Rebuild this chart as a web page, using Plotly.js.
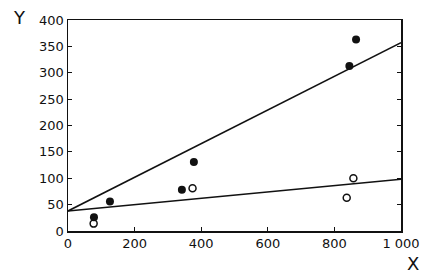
<!DOCTYPE html>
<html><head><meta charset="utf-8">
<script src="https://cdn.plot.ly/plotly-3.0.1.min.js"></script>
<style>html,body{margin:0;padding:0;background:#fff}</style>
</head><body><div id="chart" style="width:435px;height:274px"></div>
<script>
const filledX = [78, 126, 342, 378, 845, 865];
const filledY = [26, 56, 78, 131, 313, 363];
const openX = [77, 374, 837, 857];
const openY = [14, 81, 63, 100];
const upperLineX = [0, 1000];
const upperLineY = [38, 357];
const lowerLineX = [0, 1000];
const lowerLineY = [38, 98];
const xTickVals = [0, 200, 400, 600, 800, 1000];
const xTickText = ['0', '200', '400', '600', '800', '1 000'];
const yTickVals = [0, 50, 100, 150, 200, 250, 300, 350, 400];

const ink = '#111';
const traces = [
  {x: upperLineX, y: upperLineY, mode: 'lines', line: {color: ink, width: 1.5}, hoverinfo: 'skip'},
  {x: lowerLineX, y: lowerLineY, mode: 'lines', line: {color: ink, width: 1.5}, hoverinfo: 'skip'},
  {x: filledX, y: filledY, mode: 'markers', marker: {symbol: 'circle', size: 8, color: ink}},
  {x: openX, y: openY, mode: 'markers', marker: {symbol: 'circle-open', size: 7, color: ink, line: {width: 1.5, color: ink}}}
];
const font = {family: 'DejaVu Sans, sans-serif', size: 13, color: ink};
const layout = {
  width: 435, height: 274,
  margin: {l: 68, r: 34, t: 20, b: 43},
  showlegend: false,
  paper_bgcolor: '#fff', plot_bgcolor: '#fff',
  font: font,
  xaxis: {range: [0, 1000], tickvals: xTickVals, ticktext: xTickText, ticks: 'inside', ticklen: 4,
          tickcolor: ink, showline: true, linecolor: ink, linewidth: 1.5, mirror: true,
          showgrid: false, zeroline: false, tickfont: font},
  yaxis: {range: [0, 400], tickvals: yTickVals, ticks: 'inside', ticklen: 4,
          tickcolor: ink, showline: true, linecolor: ink, linewidth: 1.5, mirror: 'ticks',
          showgrid: false, zeroline: false, tickfont: font},
  annotations: [
    {text: 'Y', xref: 'paper', yref: 'paper', x: -0.145, y: 1.01, xanchor: 'center', yanchor: 'middle', showarrow: false, font: {family: 'DejaVu Sans, sans-serif', size: 18, color: ink}},
    {text: 'X', xref: 'paper', yref: 'paper', x: 1.035, y: -0.155, xanchor: 'center', yanchor: 'middle', showarrow: false, font: {family: 'DejaVu Sans, sans-serif', size: 18, color: ink}}
  ]
};
Plotly.newPlot('chart', traces, layout, {staticPlot: true, displayModeBar: false});
</script></body></html>
